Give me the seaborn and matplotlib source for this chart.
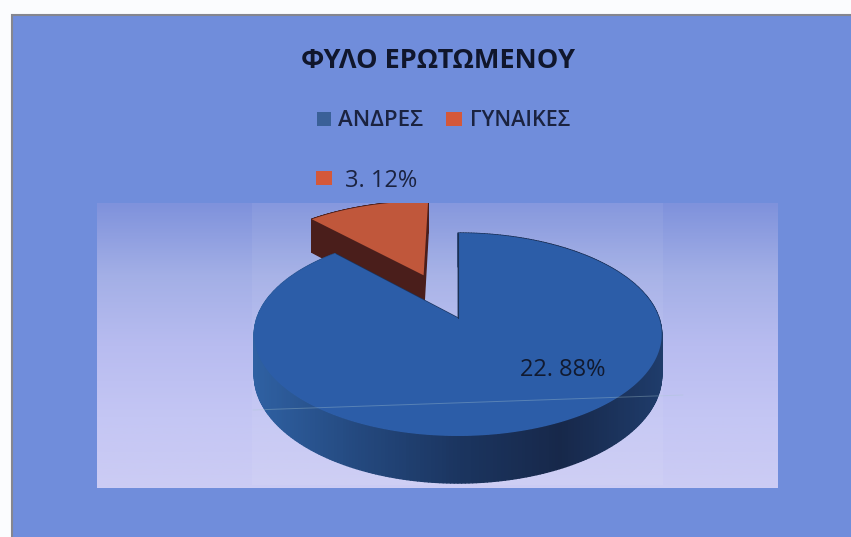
import numpy as np
import matplotlib
matplotlib.use("Agg")
import matplotlib.pyplot as plt
import seaborn as sns
from matplotlib.collections import PolyCollection
from matplotlib.colors import LinearSegmentedColormap
from matplotlib.patches import Polygon, Rectangle

# Values
categories = ["ΑΝΔΡΕΣ", "ΓΥΝΑΙΚΕΣ"]
counts = [22, 3]
percents = [88, 12]
title = "ΦΥΛΟ ΕΡΩΤΩΜΕΝΟΥ"

W, H = 851, 537
sns.set_theme(style="white")
plt.rcParams["font.family"] = ["Open Sans", "DejaVu Sans"]
palette = sns.color_palette(["#2c5da8", "#c0573b"])
legend_colors = sns.color_palette(["#3a6098", "#d4583a"])

fig = plt.figure(figsize=(W / 100, H / 100), dpi=100, facecolor="#fbfcfe")

# Background in pixel coordinates
bg = fig.add_axes([0, 0, 1, 1])
bg.set_xlim(0, W)
bg.set_ylim(H, 0)
bg.axis("off")
bg.add_patch(Rectangle((12, 15), W, H, facecolor="#708ddb", edgecolor="#85868f", lw=1.5))

# Inner panel, the pie is clipped by its upper edge
px0, px1, py0, py1 = 97, 778, 203, 488
apex_x, apex_y = 458, 318
ax = fig.add_axes([px0 / W, 1 - py1 / H, (px1 - px0) / W, (py1 - py0) / H])

wedges, _ = ax.pie(counts, explode=[0, 0.5], startangle=90, counterclock=False, colors=palette)
ax.set_aspect("auto")

# Perspective used for the tilted disc
k, a, b, depth = 0.1626, 98.8, 201, 39.4


def project(pts, drop=0.0):
    w = 1 + k * pts[:, 1]
    return np.column_stack([b * pts[:, 0] / w, (a * pts[:, 1] - drop) / w])


def outline(wedge, n=360):
    t = np.radians(np.linspace(wedge.theta1, wedge.theta2, n))
    cx, cy = wedge.center
    arc = np.column_stack([cx + wedge.r * np.cos(t), cy + wedge.r * np.sin(t)])
    return np.vstack([[cx, cy], arc, [cx, cy]])


wall_blue = LinearSegmentedColormap.from_list("wall", ["#2f61a3", "#24497f", "#1b3560", "#17284a", "#1f3c6b"])
wall_red = "#4a1e1b"

# back slice first so the blue one covers it
for wedge, wall, z in [(wedges[1], None, 3), (wedges[0], wall_blue, 5)]:
    pts = outline(wedge)
    top = project(pts)
    low = project(pts, depth)
    quads = [[top[i], top[i + 1], low[i + 1], low[i]] for i in range(len(pts) - 1)]
    if wall is None:
        cols = [wall_red] * len(quads)
    else:
        mids = np.array([q[0][0] for q in quads])
        cols = [wall((m + 205) / 410) for m in mids]
    ax.add_collection(PolyCollection(quads, facecolors=cols, edgecolors=cols, linewidths=1, zorder=z))
    ax.add_patch(Polygon(top, closed=True, facecolor=wedge.get_facecolor(), edgecolor="none", zorder=z + 1))
    if wall is not None:
        # thin dark edge of the notch
        ax.plot(top[[0, -2], 0], top[[0, -2], 1], color="#1c3154", lw=0.8, zorder=z + 2)
    wedge.set_visible(False)

ext = (px0 - apex_x, px1 - apex_x, apex_y - py1, apex_y - py0)
grad = np.array([[c] for c in np.linspace(0, 1, 200)])
panel = LinearSegmentedColormap.from_list(
    "panel", ["#7f92dc", "#a3afe6", "#b8bcf0", "#c4c6f4", "#ccccf4"])
ax.imshow(grad, extent=ext, origin="upper", aspect="auto", cmap=panel, zorder=0)
# paler block behind the pie
ax.add_patch(Rectangle((252 - apex_x, apex_y - 485), 411, 282, facecolor="white", alpha=0.06, edgecolor="none", zorder=1))
ax.set_xlim(ext[0], ext[1])
ax.set_ylim(ext[2], ext[3])
ax.axis("off")

# Texts and legend go on a clear layer above the pie
top_ax = fig.add_axes([0, 0, 1, 1], zorder=10)
top_ax.set_xlim(0, W)
top_ax.set_ylim(H, 0)
top_ax.axis("off")
top_ax.patch.set_alpha(0)

txt = "#1b2340"
top_ax.plot([253, 683], [410, 395], color="#a9c6cf", alpha=0.35, lw=0.7)
top_ax.text(438, 61, title, ha="center", va="center", fontsize=19.5, fontweight="bold", color="#10162c")

top_ax.add_patch(Rectangle((317, 112), 14, 14, facecolor=legend_colors[0], edgecolor="none"))
top_ax.add_patch(Rectangle((446, 112), 16, 14, facecolor=legend_colors[1], edgecolor="none"))
top_ax.text(338, 121, categories[0], ha="left", va="center", fontsize=16, fontweight="semibold", color=txt)
top_ax.text(470, 121, categories[1], ha="left", va="center", fontsize=15.5, fontweight="semibold", color=txt)

top_ax.add_patch(Rectangle((316, 171), 16, 14, facecolor=legend_colors[1], edgecolor="none"))
top_ax.text(345, 181, f"{counts[1]}. {percents[1]}%", ha="left", va="center", fontsize=17, color=txt)
top_ax.text(563, 370, f"{counts[0]}. {percents[0]}%", ha="center", va="center", fontsize=17, color="#111a30")

fig.savefig("out.png", dpi=100)
plt.close(fig)
